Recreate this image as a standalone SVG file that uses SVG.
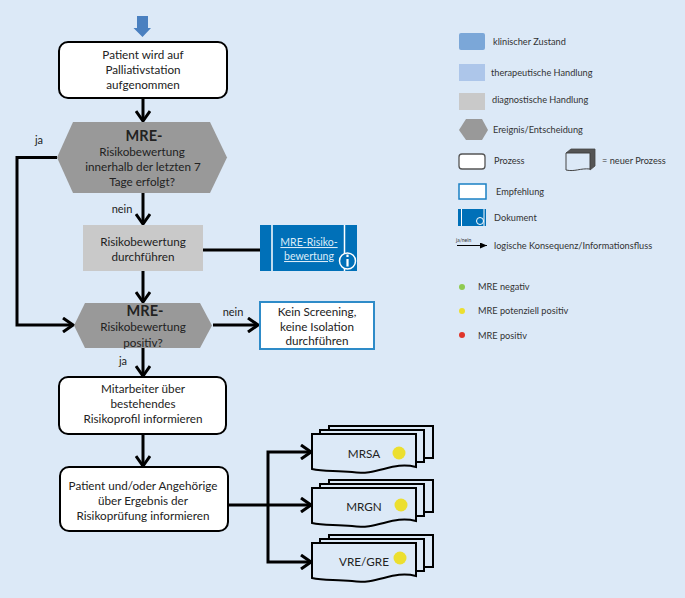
<svg xmlns="http://www.w3.org/2000/svg" width="685" height="598" viewBox="0 0 685 598">
<style>
text{font-family:Lato,"Open Sans","Liberation Sans",sans-serif;fill:#222;text-anchor:middle;font-size:11.7px}
.b{font-weight:700;font-size:14.500px}
.l{text-anchor:start;font-size:9.2px;fill:#333}
.p{fill:#fff;stroke:#000;stroke-width:2}
.c{fill:none;stroke:#000;stroke-width:3}
.a{marker-end:url(#h)}
.d{fill:#dce9f7;stroke:#000;stroke-width:2}
.y{fill:#ecdf2f}
.u{fill:#dcecf8;text-decoration:underline;font-size:10.500px}
</style>
<defs>
<marker id="h" markerUnits="userSpaceOnUse" markerWidth="14" markerHeight="16" refX="12" refY="8" orient="auto"><path d="M2 1L12 8L2 15" fill="none" stroke="#000" stroke-width="3"/></marker>
<marker id="s" markerUnits="userSpaceOnUse" markerWidth="8" markerHeight="6" refX="7" refY="3" orient="auto"><path d="M0 0L7 3L0 6z" fill="#000"/></marker>
<g id="stack"><path class="d" d="M17 -8H121V24H17z"/><path class="d" d="M8 -4H112V28H8z"/><path class="d" d="M0 0H104V33C80 27 66 42 40 38C24 36 12 38 0 35z"/></g>
</defs>
<rect width="685" height="598" fill="#dce9f7"/>
<g id="connectors">
<path class="c a" d="M143 98V121"/>
<path class="c a" d="M57 157.500H17V325H73"/>
<path class="c a" d="M143 193V224"/>
<path class="c" d="M203 250H260"/>
<path class="c a" d="M143 271V302"/>
<path class="c a" d="M213 325H258"/>
<path class="c a" d="M143 348V376"/>
<path class="c a" d="M143 434V466"/>
<path class="c a" d="M228 505H311"/>
<path class="c a" d="M268 505V452H311"/>
<path class="c a" d="M268 505V562H311"/>
<text x="39" y="144" style="font-size:11px">ja</text>
<text x="122" y="213" style="font-size:11px">nein</text>
<text x="233" y="316" style="font-size:11px">nein</text>
<text x="123" y="365" style="font-size:11px">ja</text>
</g>
<g id="start"><path d="M137 16H148V28H151L142.500 37L133.500 28H137z" fill="#4a80c0"/></g>
<g id="n1"><rect class="p" x="59" y="42" width="168" height="56" rx="9"/>
<text x="143" y="59">Patient wird auf</text><text x="143" y="74">Palliativstation</text><text x="143" y="89">aufgenommen</text></g>
<g id="n2"><path d="M57 157.500L73 122H210L227 157.500L210 193H73z" fill="#999"/>
<text class="b" x="144" y="141">MRE-</text><text x="142" y="156">Risikobewertung</text><text x="143" y="171">innerhalb der letzten 7</text><text x="142" y="186">Tage erfolgt?</text></g>
<g id="n3"><rect x="83" y="225" width="120" height="46" fill="#c9c9c9"/>
<text x="143" y="246">Risikobewertung</text><text x="143" y="261">durchführen</text></g>
<g id="n4"><rect x="260" y="225" width="97" height="46" fill="#0070b8"/>
<path d="M272 225V271M344.500 225V271" stroke="#fff" stroke-width="1.500"/>
<text class="u" x="309" y="246">MRE-Risiko-</text><text class="u" x="309" y="260">bewertung</text>
<circle cx="347.500" cy="261" r="8" fill="#0070b8" stroke="#fff" stroke-width="1.500"/><path d="M347.500 259V266.500M347.500 254.500V257" stroke="#fff" stroke-width="2.200"/></g>
<g id="n5"><path d="M74 325.500L85 303H200L212 325.500L200 348H85z" fill="#999"/>
<text class="b" x="145" y="316">MRE-</text><text x="143" y="331">Risikobewertung</text><text x="143" y="347">positiv?</text></g>
<g id="n6"><rect x="260" y="302" width="114" height="47" fill="#fff" stroke="#2e8bc8" stroke-width="2"/>
<text x="317" y="316">Kein Screening,</text><text x="317" y="331">keine Isolation</text><text x="317" y="345">durchführen</text></g>
<g id="n7"><rect class="p" x="59" y="377" width="167" height="57" rx="9"/>
<text x="143" y="393">Mitarbeiter über</text><text x="143" y="408">bestehendes</text><text x="143" y="423">Risikoprofil informieren</text></g>
<g id="n8"><rect class="p" x="60" y="467" width="168" height="64" rx="9"/>
<text x="143" y="490">Patient und/oder Angehörige</text><text x="143" y="505">über Ergebnis der</text><text x="143" y="520">Risikoprüfung informieren</text></g>
<g id="d1"><use href="#stack" x="312" y="434"/><text x="364" y="458">MRSA</text><circle class="y" cx="399" cy="453" r="6.500"/></g>
<g id="d2"><use href="#stack" x="312" y="488"/><text x="364" y="511">MRGN</text><circle class="y" cx="401" cy="505" r="6.500"/></g>
<g id="d3"><use href="#stack" x="312" y="543"/><text x="364" y="566">VRE/GRE</text><circle class="y" cx="400" cy="558" r="6.500"/></g>
<g id="legend">
<rect x="459" y="33" width="26" height="17" rx="2" fill="#7ba7d8"/><text class="l" x="493" y="45">klinischer Zustand</text>
<rect x="459" y="64" width="26" height="17" fill="#adc6ea"/><text class="l" x="491" y="76">therapeutische Handlung</text>
<rect x="459" y="93" width="26" height="17" fill="#c9c9c9"/><text class="l" x="492" y="103">diagnostische Handlung</text>
<path d="M459 130L466 119H482L488 130L482 140H466z" fill="#999"/><text class="l" x="493" y="133">Ereignis/Entscheidung</text>
<rect x="459" y="154" width="26" height="15" rx="3" fill="#fff" stroke="#555" stroke-width="1.300"/><text class="l" x="494" y="164">Prozess</text>
<path d="M571 149H595V166L590 170V153H566z" fill="#555" stroke="#444" stroke-width=".8"/><path d="M566 153H590V169C580 168 575 172 566 170z" fill="#dce9f7" stroke="#444" stroke-width="1"/><text class="l" x="602" y="164">= neuer Prozess</text>
<rect x="459" y="184" width="27" height="15" fill="#fff" stroke="#1a80c4" stroke-width="1.500"/><text class="l" x="496" y="195">Empfehlung</text>
<rect x="458" y="209" width="28" height="17" fill="#0070b8"/><path d="M461.500 209V226M484 209V226" stroke="#fff"/><circle cx="480" cy="221" r="3.500" fill="none" stroke="#fff"/><text class="l" x="494" y="221">Dokument</text>
<path d="M457 245.500H487" stroke="#000" marker-end="url(#s)"/><text class="l" x="456" y="242" style="font-size:5px">ja/nein</text><text class="l" x="494" y="249">logische Konsequenz/Informationsfluss</text>
<circle cx="462" cy="287" r="3" fill="#8fca50"/><text class="l" x="478" y="290">MRE negativ</text>
<circle cx="462" cy="311" r="3" fill="#ecdf2f"/><text class="l" x="478" y="314">MRE potenziell positiv</text>
<circle cx="462" cy="335" r="3" fill="#e0352b"/><text class="l" x="478" y="339">MRE positiv</text>
</g>
</svg>
